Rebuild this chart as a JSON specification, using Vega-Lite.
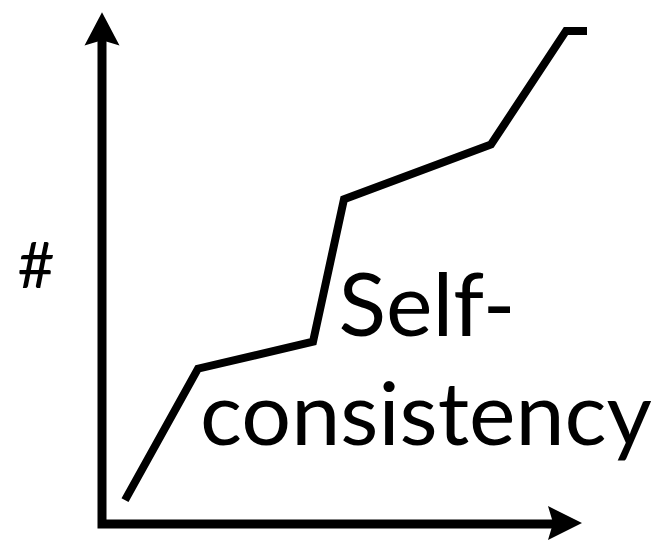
{
  "$schema": "https://vega.github.io/schema/vega-lite/v6.json",
  "width": 656,
  "height": 542,
  "padding": 0,
  "autosize": {"type": "fit", "contains": "padding"},
  "background": "white",
  "config": {"view": {"stroke": null}},
  "datasets": {
    "axes": [
      {"x": 102, "y": 502, "o": 1},
      {"x": 102, "y": 16, "o": 2},
      {"x": 556, "y": 16, "o": 3}
    ],
    "curve": [
      {"x": 125, "y": 40, "o": 1},
      {"x": 198, "y": 172, "o": 2},
      {"x": 313, "y": 199, "o": 3},
      {"x": 344, "y": 342, "o": 4},
      {"x": 491, "y": 397, "o": 5},
      {"x": 566, "y": 511, "o": 6},
      {"x": 587, "y": 511, "o": 7}
    ],
    "arrowUp": [{"x": 102, "y": 513}],
    "arrowRight": [{"x": 565, "y": 17}],
    "hash": [{"x": 36, "y": 253, "t": "#"}],
    "label": [
      {"x": 427, "y": 205, "t": "Self-"},
      {"x": 426, "y": 95, "t": "consistency"}
    ]
  },
  "encoding": {
    "x": {"field": "x", "type": "quantitative", "scale": {"domain": [0, 656], "nice": false, "zero": false}, "axis": null},
    "y": {"field": "y", "type": "quantitative", "scale": {"domain": [0, 542], "nice": false, "zero": false}, "axis": null}
  },
  "layer": [
    {
      "data": {"name": "axes"},
      "mark": {"type": "line", "color": "black", "strokeWidth": 9, "strokeJoin": "miter", "strokeCap": "butt"},
      "encoding": {"order": {"field": "o", "type": "quantitative"}}
    },
    {
      "data": {"name": "curve"},
      "mark": {"type": "line", "color": "black", "strokeWidth": 8, "strokeJoin": "miter", "strokeCap": "butt"},
      "encoding": {"order": {"field": "o", "type": "quantitative"}}
    },
    {
      "data": {"name": "arrowUp"},
      "mark": {"type": "point", "filled": true, "color": "black", "opacity": 1, "size": 1225, "shape": "M0,-0.95L1,0.95L0,0.65L-1,0.95Z"}
    },
    {
      "data": {"name": "arrowRight"},
      "mark": {"type": "point", "filled": true, "color": "black", "opacity": 1, "size": 1156, "shape": "M1,0L-1,-1L-0.7,0L-1,1Z"}
    },
    {
      "data": {"name": "hash"},
      "mark": {"type": "text", "font": "Lato", "fontSize": 64, "align": "center", "baseline": "alphabetic", "color": "black"},
      "encoding": {"text": {"field": "t"}}
    },
    {
      "data": {"name": "label"},
      "mark": {"type": "text", "font": "Lato", "fontSize": 88, "align": "center", "baseline": "alphabetic", "color": "black"},
      "encoding": {"text": {"field": "t"}}
    }
  ]
}
